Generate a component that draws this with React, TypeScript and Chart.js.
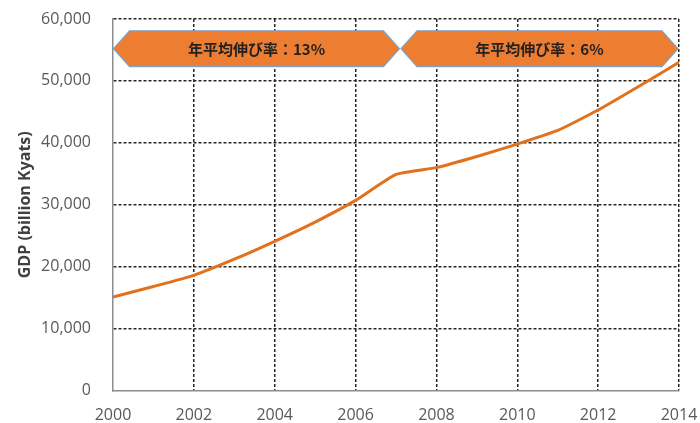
import React, { useEffect, useRef } from "react";
import { Chart, registerables } from "chart.js";

Chart.register(...registerables);

// GDP by year (billion Kyats)
const years = [2000, 2001, 2002, 2003, 2004, 2005, 2006, 2007, 2008, 2009, 2010, 2011, 2012, 2013, 2014];
const gdp = [15100, 16800, 18600, 21200, 24100, 27200, 30700, 34900, 36000, 37800, 39800, 42000, 45300, 49100, 53000];

// Growth-rate periods shown as banners over the plot
const periodStart = [2000, 2007];
const periodEnd = [2007, 2014];
const periodLabels = ["年平均伸び率：13%", "年平均伸び率：6%"];

const yTicks = [0, 10000, 20000, 30000, 40000, 50000, 60000];

const FONT = "'Open Sans', 'DejaVu Sans', sans-serif";

const bannerPlugin = {
  id: "periodBanners",
  afterDatasetsDraw(chart: any) {
    const { ctx, scales } = chart;
    const xs = scales.x;
    const ys = scales.y;
    const top = ys.getPixelForValue(58100);
    const bottom = ys.getPixelForValue(52300);
    const mid = (top + bottom) / 2;
    const depth = 16;
    ctx.save();
    for (let i = 0; i < periodStart.length; i++) {
      const x0 = xs.getPixelForValue(periodStart[i]) + (i === 0 ? 0.5 : 5);
      const x1 = xs.getPixelForValue(periodEnd[i]) + (i === 0 ? 3.5 : -1);
      ctx.beginPath();
      ctx.moveTo(x0, mid);
      ctx.lineTo(x0 + depth, top);
      ctx.lineTo(x1 - depth, top);
      ctx.lineTo(x1, mid);
      ctx.lineTo(x1 - depth, bottom);
      ctx.lineTo(x0 + depth, bottom);
      ctx.closePath();
      ctx.fillStyle = "#ED7D31";
      ctx.fill();
      ctx.lineWidth = 1.2;
      ctx.strokeStyle = "#7FA3C8";
      ctx.stroke();
      ctx.fillStyle = "#222";
      ctx.font = "bold 15px 'Noto Sans CJK JP', sans-serif";
      ctx.textAlign = "center";
      ctx.textBaseline = "middle";
      ctx.fillText(periodLabels[i], (x0 + x1) / 2, mid + 1);
    }
    ctx.restore();
  },
};

export default function App() {
  const canvasRef = useRef<HTMLCanvasElement | null>(null);

  useEffect(() => {
    if (!canvasRef.current) return;
    // the edge line at the axis is drawn by the solid border instead
    const gridColor = (edge: number) => (c: any) =>
      c.tick && c.tick.value === edge ? "rgba(0,0,0,0)" : "#262626";
    const chart = new Chart(canvasRef.current, {
      type: "line",
      data: {
        datasets: [
          {
            data: years.map((y, i) => ({ x: y, y: gdp[i] })),
            borderColor: "#E2711D",
            borderWidth: 3,
            pointRadius: 0,
            tension: 0.15,
            fill: false,
          },
        ],
      },
      options: {
        animation: false,
        responsive: true,
        maintainAspectRatio: false,
        layout: { padding: { top: 19, right: 21, left: 0, bottom: 0 } },
        plugins: { legend: { display: false }, tooltip: { enabled: false } },
        scales: {
          x: {
            type: "linear",
            min: 2000,
            max: 2014,
            afterBuildTicks: (s: any) => {
              s.ticks = years.filter((y) => y % 2 === 0).map((v) => ({ value: v }));
            },
            afterFit: (s: any) => {
              s.height = 32.5;
              s.paddingLeft = 0;
              s.paddingRight = 0;
            },
            ticks: {
              padding: 15,
              color: "#595959",
              font: { family: FONT, size: 16 },
              callback: (v: any) => String(v),
              maxRotation: 0,
            },
            grid: {
              drawTicks: false,
              color: gridColor(2000),
              lineWidth: 1.5,
            },
            border: { display: true, color: "#8c8c8c", width: 1.5, dash: [3, 2] },
          },
          y: {
            min: 0,
            max: 60000,
            afterBuildTicks: (s: any) => {
              s.ticks = yTicks.map((v) => ({ value: v }));
            },
            afterFit: (s: any) => {
              s.width = 113;
              s.paddingTop = 0;
              s.paddingBottom = 0;
            },
            ticks: {
              padding: 22,
              color: "#595959",
              font: { family: FONT, size: 16 },
              callback: (v: any) => Number(v).toLocaleString("en-US"),
            },
            grid: {
              drawTicks: false,
              color: gridColor(0),
              lineWidth: 1.5,
            },
            border: { display: true, color: "#8c8c8c", width: 1.5, dash: [3, 2] },
            title: {
              display: true,
              text: "GDP (billion Kyats)",
              color: "#404040",
              font: { family: FONT, size: 16, weight: "bold" },
              padding: { top: 16, bottom: 0 },
            },
          },
        },
      },
      plugins: [bannerPlugin],
    } as any);
    return () => chart.destroy();
  }, []);

  return (
    <div style={{ position: "fixed", left: 0, top: 0, width: 700, height: 423, background: "#fff" }}>
      <canvas ref={canvasRef} />
    </div>
  );
}
